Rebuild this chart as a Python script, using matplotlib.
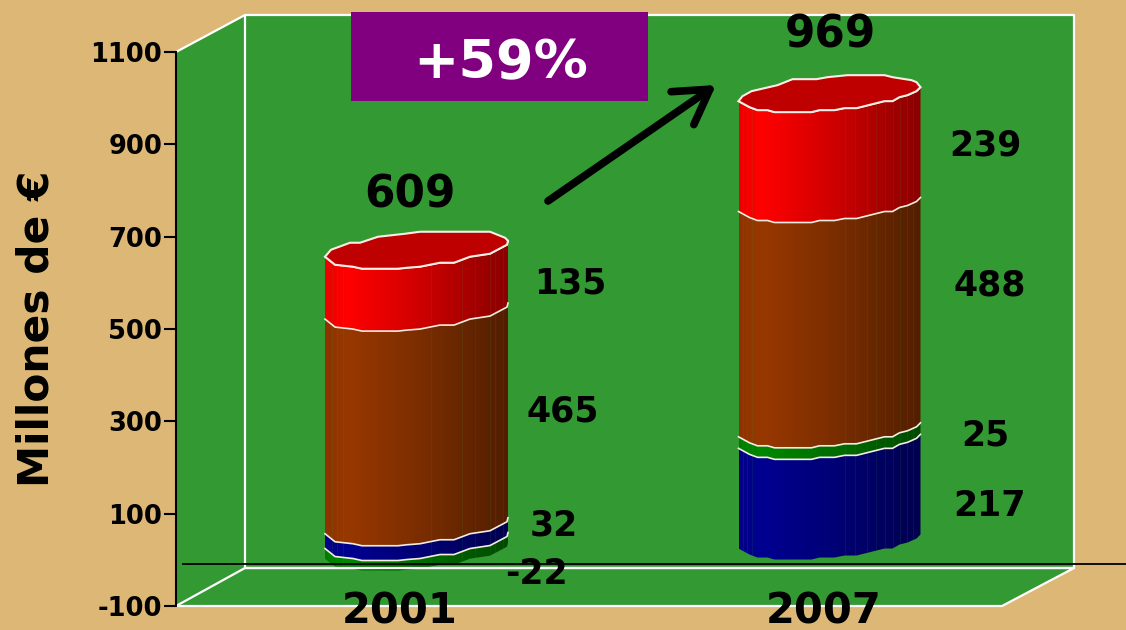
import numpy as np
import matplotlib
matplotlib.use("Agg")
import matplotlib.pyplot as plt
from matplotlib.patches import Polygon, Rectangle

plt.rcParams["axes.unicode_minus"] = False

W, H = 1126, 630

categories = ["2001", "2007"]
values_2001 = [-22, 32, 465, 135]  # green, blue, brown, red
values_2007 = [25, 217, 488, 239]
totals = [609, 969]
y_ticks = [-100, 100, 300, 500, 700, 900, 1100]
growth_label = "+59%"
y_label = "Millones de \u20ac"

bg_color = "#DDB775"
wall_color = "#339933"

# wobbly outline of the cylinders, pixels from the left edge of the bar
front_x_2001 = [0, 10, 28, 37, 73, 82, 95, 115, 129, 145, 165, 182, 183]
front_dy_2001 = [0, 8, 10, 12, 12, 11, 10, 6, 6, 0, -3, -12, -16]
back_x_2001 = [183, 180, 165, 95, 80, 53, 35, 25, 6, 0]
back_dy_2001 = [-16, -19, -25, -25, -23, -20, -14, -14, -7, 0]

front_x_2007 = [0, 11, 19, 29, 36, 73, 81, 96, 106, 118, 146, 154, 161, 169, 178, 182]
front_dy_2007 = [0, 6, 9, 9, 11, 11, 9, 9, 7, 7, 0, 0, -4, -6, -10, -14]
back_x_2007 = [182, 178, 173, 154, 146, 109, 89, 78, 54, 39, 13, 4, 0]
back_dy_2007 = [-14, -19, -21, -24, -26, -26, -24, -22, -22, -16, -10, -5, 0]

facets_2001 = [7, 12, 18, 106, 137, 150, 165, 170, 178]
facets_2007 = [4, 8, 13, 106, 116, 128, 137, 146, 154, 161, 168, 175]

colors = {"red": (255, 0, 0), "brown": (152, 56, 0), "blue": (0, 0, 145), "green": (0, 135, 0)}
cap_color = "#BE0000"

px_per_unit = 554 / 1200
bar_step = 413.5
bar_w = 183
depth = 24.5  # bars sit a bit behind the front plane, value units

fig = plt.figure(figsize=(W / 100, H / 100), dpi=100, facecolor=bg_color)

# the 3d box behind the bars, pixel coordinates
back = fig.add_axes([0, 0, 1, 1], zorder=0)
back.set_xlim(0, W)
back.set_ylim(H, 0)
back.axis("off")
back.add_patch(Polygon([(176, 52), (245, 15), (1074, 15), (1074, 568), (1002, 606), (176, 606)],
                       facecolor=wall_color, edgecolor="none"))
white = dict(color="white", lw=1.6, solid_capstyle="round")
back.plot([176, 245, 1074, 1074, 1002, 176], [52, 15, 15, 568, 606, 606], **white)
back.plot([245, 245], [15, 568], **white)
back.plot([176, 245, 1074], [606, 568, 568], **white)

# value axes
ax = fig.add_axes([176 / W, (H - 606) / H, 826 / W, 554 / H], zorder=1)
ax.patch.set_alpha(0)
ax.set_xlim((176 - 416.5) / bar_step, (1002 - 416.5) / bar_step)
ax.set_ylim(-100, 1100)
for s in ["top", "right", "bottom"]:
    ax.spines[s].set_visible(False)
ax.spines["left"].set_linewidth(1.5)
ax.set_xticks([])
ax.set_yticks(y_ticks)
ax.tick_params(axis="y", length=8.5, width=1.5, pad=1.5)
for t in ax.get_yticklabels():
    t.set_fontsize(18.5)
    t.set_fontweight("bold")
    t.set_family("DejaVu Sans")


def shade(rgb):
    stops = np.interp(np.linspace(0, 1, 183), [0, 0.12, 0.5, 1], [0.93, 1.0, 0.82, 0.54])
    return (np.outer(stops, rgb) / 255)[np.newaxis, :, :]


def outline(i, xs, dys, level):
    x = i + (np.array(xs) - bar_w / 2) / bar_step
    y = level + depth - np.array(dys) / px_per_unit
    return x, y


def draw_segment(i, front_x, front_dy, facets, bottom, top, name):
    x_top, y_top = outline(i, front_x, front_dy, top)
    x_bot, y_bot = outline(i, front_x, front_dy, bottom)
    pts = list(zip(x_top, y_top)) + list(zip(x_bot[::-1], y_bot[::-1]))
    clip = Polygon(pts, transform=ax.transData)
    left = i - bar_w / 2 / bar_step
    right = i + bar_w / 2 / bar_step
    im = ax.imshow(shade(colors[name]), extent=[left, right, y_bot.min() - 5, y_top.max() + 5],
                   aspect="auto", zorder=2, interpolation="bilinear")
    im.set_clip_path(clip)
    fx = i + (np.array(facets) - bar_w / 2) / bar_step
    lines = ax.vlines(fx, y_bot.min() - 5, y_top.max() + 5, color=wall_color, lw=0.6, alpha=0.16, zorder=3)
    lines.set_clip_path(clip)
    if top > 0:
        ax.plot(x_top, y_top, color="#F4EDE0", lw=1.2, zorder=4)


def draw_cap(i, front_x, front_dy, back_x, back_dy, level):
    x1, y1 = outline(i, front_x, front_dy, level)
    x2, y2 = outline(i, back_x, back_dy, level)
    ax.add_patch(Polygon(list(zip(x1, y1)) + list(zip(x2, y2)), facecolor=cap_color,
                         edgecolor="#F7EFE6", lw=1.5, zorder=5))


# 2001: green goes below zero
g, b, br, r = values_2001
draw_segment(0, front_x_2001, front_dy_2001, facets_2001, g, 0, "green")
draw_segment(0, front_x_2001, front_dy_2001, facets_2001, 0, b, "blue")
draw_segment(0, front_x_2001, front_dy_2001, facets_2001, b, b + br, "brown")
draw_segment(0, front_x_2001, front_dy_2001, facets_2001, b + br, b + br + r, "red")
draw_cap(0, front_x_2001, front_dy_2001, back_x_2001, back_dy_2001, b + br + r)
x_zero, y_zero = outline(0, front_x_2001, front_dy_2001, 0)
ax.plot(x_zero, y_zero, color="#F4EDE0", lw=1.2, zorder=4)

# 2007: blue at the bottom, green on top of it
g, b, br, r = values_2007
draw_segment(1, front_x_2007, front_dy_2007, facets_2007, 0, b, "blue")
draw_segment(1, front_x_2007, front_dy_2007, facets_2007, b, b + g, "green")
draw_segment(1, front_x_2007, front_dy_2007, facets_2007, b + g, b + g + br, "brown")
draw_segment(1, front_x_2007, front_dy_2007, facets_2007, b + g + br, b + g + br + r, "red")
draw_cap(1, front_x_2007, front_dy_2007, back_x_2007, back_dy_2007, b + g + br + r)

ax.set_xlim((176 - 416.5) / bar_step, (1002 - 416.5) / bar_step)
ax.set_ylim(-100, 1100)

# annotations on top, pixel coordinates
top = fig.add_axes([0, 0, 1, 1], zorder=2)
top.set_xlim(0, W)
top.set_ylim(H, 0)
top.axis("off")
top.patch.set_alpha(0)
top.plot([183, W], [564, 564], color="black", lw=1.3)
# white floor line shows just under the zero line, hides the foot of the 2001 bar
top.plot([245, 1074], [568, 568], **white)
top.add_patch(Rectangle((351, 12), 297, 89, facecolor="#800080", edgecolor="none"))
top.text(501, 63, growth_label, color="white", fontsize=39, ha="center", va="center",
         family="DejaVu Sans", fontweight="bold")
top.annotate("", xy=(716, 85), xytext=(548, 201),
             arrowprops=dict(arrowstyle="->,head_length=1.5,head_width=0.9", color="black", lw=5.5,
                             shrinkA=0, shrinkB=0, mutation_scale=16))
top.text(37, 329, y_label, rotation=90, fontsize=30.5, fontweight="bold", ha="center", va="center",
         family="DejaVu Sans")

lab = dict(ha="center", va="center", family="DejaVu Sans", fontweight="bold", color="black")
top.text(410, 195, str(totals[0]), fontsize=31.5, **lab)
top.text(830, 35, str(totals[1]), fontsize=31.5, **lab)
top.text(570, 284, str(values_2001[3]), fontsize=25, **lab)
top.text(563, 411, str(values_2001[2]), fontsize=25, **lab)
top.text(554, 526, str(values_2001[1]), fontsize=25, **lab)
top.text(536, 574, str(values_2001[0]), fontsize=25, **lab)
top.text(985, 146, str(values_2007[3]), fontsize=25, **lab)
top.text(990, 286, str(values_2007[2]), fontsize=25, **lab)
top.text(985, 436, str(values_2007[0]), fontsize=25, **lab)
top.text(990, 506, str(values_2007[1]), fontsize=25, **lab)
top.text(400, 612, categories[0], fontsize=30, **lab)
top.text(824, 612, categories[1], fontsize=30, **lab)

fig.savefig("out.png", dpi=100, facecolor=bg_color)
